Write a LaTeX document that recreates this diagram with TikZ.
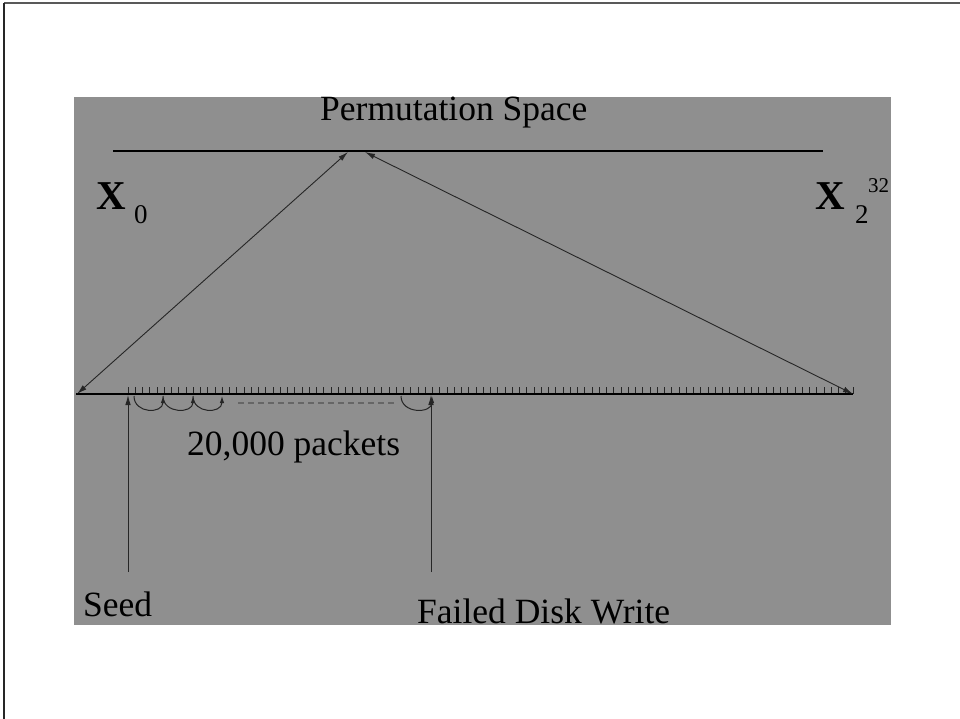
\documentclass[tikz,border=0pt]{standalone}
\usepackage{fontspec}
\setmainfont{Liberation Serif}
\usetikzlibrary{arrows.meta}
\definecolor{bggray}{RGB}{143,143,143}
\begin{document}
\begin{tikzpicture}[x=1pt,y=-1pt,
  lbl/.style={inner sep=0pt,anchor=base west,font=\fontsize{35.5}{40}\selectfont},
  bigx/.style={inner sep=0pt,anchor=base west,font=\fontsize{41}{44}\selectfont\bfseries},
  subx/.style={inner sep=0pt,anchor=base west,font=\fontsize{27}{30}\selectfont},
  supx/.style={inner sep=0pt,anchor=base west,font=\fontsize{21}{24}\selectfont},
  darr/.style={draw=black!85,line width=0.9pt,{Latex[length=10pt,width=5.5pt]}-{Latex[length=10pt,width=5.5pt]}},
  varr/.style={draw=black!85,line width=0.9pt,-{Latex[length=10pt,width=5.5pt]}},
  hop/.style={draw=black!85,line width=1pt,-{Latex[length=7pt,width=4.5pt]}},
  tickmark/.style={draw=black!85,line width=0.9pt}]
\useasboundingbox (0,0) rectangle (960,719);
\fill[white] (0,0) rectangle (960,719);
\draw[line width=2pt,black!65] (4,3) -- (960,3);
\draw[line width=2pt,black!85] (4,3) -- (4,719);
\fill[bggray] (74,97) rectangle (891,625);
% texts
\node[lbl] (title) at (320,121) {Permutation Space};
\node[bigx] (x0) at (96,210) {X};
\node[subx] (x0s) at (134,224) {0};
\node[bigx] (xn) at (815,210) {X};
\node[subx] (xns) at (855,224) {2};
\node[supx] (xnp) at (868,193) {32};
\node[lbl] (packets) at (187,455) {20,000 packets};
\node[lbl] (seed) at (83,616) {Seed};
\node[lbl] (failed) at (417,623) {Failed Disk Write};
% top line
\coordinate (tl) at (113,151);
\coordinate (tr) at (823,151);
\draw[line width=2.5pt] (tl) -- (tr);
% bottom line
\coordinate (bl) at (77,394);
\coordinate (br) at (853,394);
\coordinate (apexl) at (348,152);
\coordinate (apexr) at (365,152);
\foreach \i in {0,...,100}
  \draw[tickmark] (128+7.25*\i,387) -- (128+7.25*\i,394);
\draw[line width=1.8pt] (76,394) -- (br);
\draw[darr] (bl) -- (apexl);
\draw[darr] (br) -- (apexr);
% vertical arrows
\coordinate (seedbot) at (128,572);
\coordinate (seedtop) at (128,395);
\coordinate (failbot) at (431,572);
\coordinate (failtop) at (431,395);
\draw[varr] (seedbot) -- (seedtop);
\draw[varr] (failbot) -- (failtop);
% hops
\foreach \a/\b in {134/163,163/193,193/222,401/432}
  \draw[hop] (\a,396) .. controls (\a,414) and (\b,414) .. (\b,396);
% dashed
\coordinate (dl) at (238,403);
\coordinate (dr) at (395,403);
\draw[black!60,line width=1.8pt,dash pattern=on 6pt off 4pt] (dl) -- (dr);
\end{tikzpicture}
\end{document}
